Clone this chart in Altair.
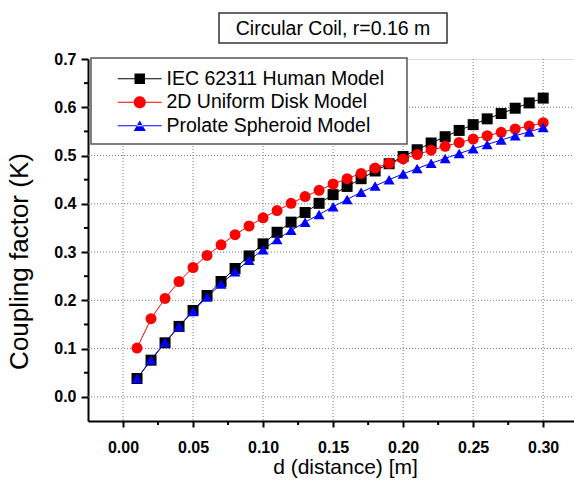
import altair as alt
import pandas as pd

distance = [0.01, 0.02, 0.03, 0.04, 0.05, 0.06, 0.07, 0.08, 0.09, 0.10,
            0.11, 0.12, 0.13, 0.14, 0.15, 0.16, 0.17, 0.18, 0.19, 0.20,
            0.21, 0.22, 0.23, 0.24, 0.25, 0.26, 0.27, 0.28, 0.29, 0.30]
iec_human = [0.038, 0.076, 0.112, 0.146, 0.179, 0.210, 0.239, 0.266, 0.292, 0.317,
             0.341, 0.362, 0.382, 0.401, 0.419, 0.436, 0.452, 0.468, 0.483, 0.498,
             0.512, 0.526, 0.539, 0.552, 0.564, 0.576, 0.587, 0.598, 0.609, 0.619]
disk_model = [0.101, 0.162, 0.204, 0.239, 0.268, 0.293, 0.315, 0.336, 0.354, 0.371,
              0.386, 0.401, 0.415, 0.428, 0.441, 0.452, 0.463, 0.474, 0.484, 0.493,
              0.502, 0.511, 0.519, 0.527, 0.534, 0.541, 0.548, 0.555, 0.561, 0.568]
spheroid = [0.038, 0.077, 0.113, 0.146, 0.177, 0.207, 0.234, 0.259, 0.283, 0.305,
            0.326, 0.345, 0.362, 0.378, 0.394, 0.409, 0.424, 0.437, 0.450, 0.462,
            0.473, 0.484, 0.494, 0.504, 0.514, 0.523, 0.532, 0.541, 0.549, 0.558]

series_names = ["IEC 62311 Human Model", "2D Uniform Disk Model", "Prolate Spheroid Model"]
series_colors = ["#000000", "#FF0000", "#0000FF"]
series_shapes = ["square", "circle", "triangle-up"]
# legend symbols: a short line segment through the marker (unit box -1..1)
legend_shapes = [
    "M-4,-0.09H4V0.09H-4Z M-0.95,-0.95H0.95V0.95H-0.95Z",
    "M-4,-0.09H4V0.09H-4Z M-1.1,0A1.1,1.1,0,1,1,1.1,0A1.1,1.1,0,1,1,-1.1,0Z",
    "M-4,-0.09H4V0.09H-4Z M0,-0.95L-1.1,0.95L1.1,0.95Z",
]

x_major_ticks = [0.0, 0.05, 0.10, 0.15, 0.20, 0.25, 0.30]
x_minor_ticks = [0.025, 0.075, 0.125, 0.175, 0.225, 0.275]
y_major_ticks = [0.0, 0.1, 0.2, 0.3, 0.4, 0.5, 0.6, 0.7]
y_minor_ticks = [0.05, 0.15, 0.25, 0.35, 0.45, 0.55, 0.65]
y_grid_values = [0.0, 0.1, 0.2, 0.3, 0.4, 0.5, 0.6]

title_text = "Circular Coil, r=0.16 m"

rows = []
for name, vals in zip(series_names, [iec_human, disk_model, spheroid]):
    for d, k in zip(distance, vals):
        rows.append({"d": d, "K": k, "model": name, "model_pt": name, "model_line": name})
df = pd.DataFrame(rows)

FONT = "Liberation Sans"
W, H = 486, 362

x_scale = alt.Scale(domain=[-0.025, 0.322], nice=False, zero=False)
y_scale = alt.Scale(domain=[-0.05, 0.7], nice=False, zero=False)

x_enc = alt.X(
    "d:Q", scale=x_scale,
    axis=alt.Axis(
        orient="bottom",
        values=x_major_ticks, format=".2f",
        title="d (distance) [m]",
        titleFont=FONT, titleFontSize=21, titleFontWeight="normal", titleColor="black",
        titleX=257, titleY=35, titleBaseline="top",
        labelFont=FONT, labelFontSize=16, labelFontWeight="bold", labelColor="black",
        labelPadding=12, labelFlush=False, labelOverlap=False,
        domainColor="black", domainWidth=2,
        tickColor="black", tickWidth=2, tickSize=6, grid=False,
    ),
)
y_enc = alt.Y(
    "K:Q", scale=y_scale,
    axis=alt.Axis(
        orient="left",
        values=y_major_ticks, format=".1f",
        title="Coupling factor (K)",
        titleFont=FONT, titleFontSize=26, titleFontWeight="normal", titleColor="black",
        titleX=-56, titleY=202,
        labelFont=FONT, labelFontSize=16, labelFontWeight="bold", labelColor="black",
        labelPadding=5, labelFlush=False, labelOverlap=False,
        domainColor="black", domainWidth=2,
        tickColor="black", tickWidth=2, tickSize=7, grid=False,
    ),
)

legend = alt.Legend(
    orient="none", legendX=3, legendY=2, title=None,
    padding=8, rowPadding=2.5, symbolSize=121, symbolOffset=31, labelOffset=17,
    symbolOpacity=1,
    labelFont=FONT, labelFontSize=19.5, labelLimit=0, labelColor="black", zindex=1,
)

grid_x = alt.Chart(pd.DataFrame({"gx": x_major_ticks})).mark_rule(
    color="#777777", strokeWidth=1, strokeDash=[1, 2]
).encode(x=alt.X("gx:Q", scale=x_scale, axis=None), y=alt.value(0), y2=alt.value(H))

grid_y = alt.Chart(pd.DataFrame({"gy": y_grid_values})).mark_rule(
    color="#777777", strokeWidth=1, strokeDash=[1, 2]
).encode(y=alt.Y("gy:Q", scale=y_scale, axis=None), x=alt.value(0), x2=alt.value(W))

minor_x = alt.Chart(pd.DataFrame({"mx": x_minor_ticks})).mark_rule(
    color="black", strokeWidth=2
).encode(x=alt.X("mx:Q", scale=x_scale, axis=None), y=alt.value(H), y2=alt.value(H + 4))

minor_y = alt.Chart(pd.DataFrame({"my": y_minor_ticks})).mark_rule(
    color="black", strokeWidth=2
).encode(y=alt.Y("my:Q", scale=y_scale, axis=None), x=alt.value(-4), x2=alt.value(0))

lines = alt.Chart(df).mark_line(strokeWidth=1).encode(
    x=x_enc, y=y_enc,
    stroke=alt.Stroke("model_line:N",
                      scale=alt.Scale(domain=series_names, range=series_colors),
                      legend=None),
    order=alt.Order("d:Q"),
)

points = alt.Chart(df).mark_point(filled=True, size=121, opacity=1).encode(
    x=alt.X("d:Q", scale=x_scale, axis=None), y=alt.Y("K:Q", scale=y_scale, axis=None),
    fill=alt.Fill("model_pt:N",
                  scale=alt.Scale(domain=series_names, range=series_colors),
                  legend=None),
    shape=alt.Shape("model_pt:N",
                    scale=alt.Scale(domain=series_names, range=series_shapes),
                    legend=None),
)

legend_box = alt.Chart(alt.Data(values=[{}])).mark_rect(
    fill="white", stroke="#555555", strokeWidth=1.5
).encode(x=alt.value(3), x2=alt.value(319), y=alt.value(-1), y2=alt.value(85))

# layer with no drawn marks that only carries the legend (line + marker symbols)
legend_carrier = alt.Chart(df).transform_filter("false").mark_point(
    filled=True, size=121
).encode(
    x=alt.X("d:Q", scale=x_scale, axis=None), y=alt.Y("K:Q", scale=y_scale, axis=None),
    fill=alt.Fill("model:N",
                  scale=alt.Scale(domain=series_names, range=series_colors),
                  legend=legend),
    shape=alt.Shape("model:N",
                    scale=alt.Scale(domain=series_names, range=legend_shapes),
                    legend=legend),
)

title_data = alt.Data(values=[{"t": title_text}])
title_box = alt.Chart(title_data).mark_rect(fill="white", stroke="#333333", strokeWidth=1.5).encode(
    x=alt.value(131), x2=alt.value(359), y=alt.value(-46), y2=alt.value(-16)
)
title_label = alt.Chart(title_data).mark_text(
    font=FONT, fontSize=19.5, color="black", align="center", baseline="middle"
).encode(x=alt.value(245), y=alt.value(-30), text="t:N")

chart = alt.layer(
    grid_x, grid_y, minor_x, minor_y, lines, points, legend_box, legend_carrier,
    title_box, title_label
).resolve_scale(
    stroke="independent", fill="independent", shape="independent"
).resolve_axis(
    x="independent", y="independent"
).properties(
    width=W, height=H,
    autosize=alt.AutoSizeParams(type="none"),
    padding={"left": 88, "top": 59, "right": 0, "bottom": 64},
).configure_view(stroke=None).configure(background="white")

chart.save("out.html", embed_options={"renderer": "svg", "actions": False})
